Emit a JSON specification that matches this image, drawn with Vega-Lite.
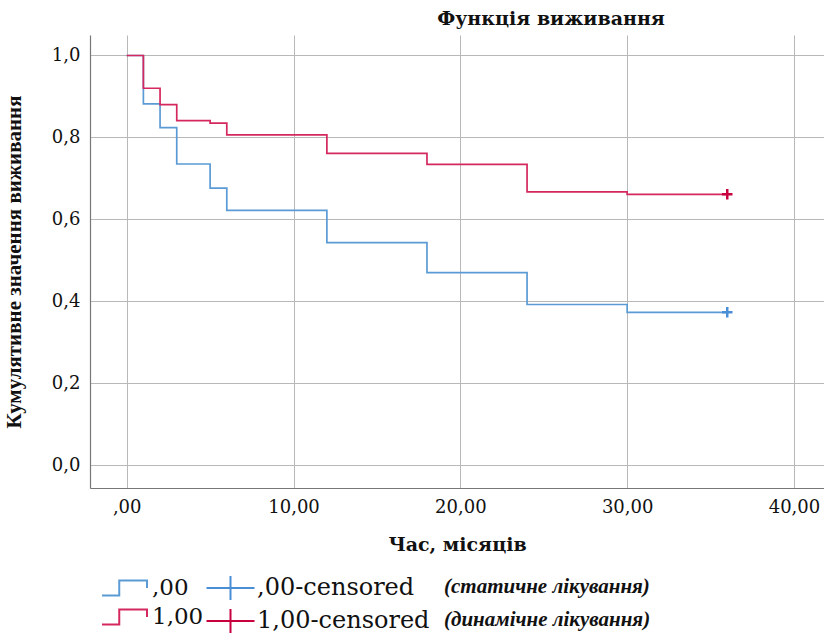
{
  "$schema": "https://vega.github.io/schema/vega-lite/v6.json",
  "width": 734,
  "height": 453,
  "padding": {"left": 3, "top": 10, "right": 0, "bottom": 0},
  "background": "white",
  "title": {
    "text": "Функція виживання",
    "font": "DejaVu Serif",
    "fontWeight": "bold",
    "fontSize": 19,
    "color": "#111111",
    "anchor": "middle",
    "dx": 94,
    "offset": 6
  },
  "datasets": {
    "curves": [
      {"t": 0, "s": 1.0, "grp": ",00"},
      {"t": 1, "s": 0.882, "grp": ",00"},
      {"t": 2, "s": 0.824, "grp": ",00"},
      {"t": 3, "s": 0.735, "grp": ",00"},
      {"t": 5, "s": 0.676, "grp": ",00"},
      {"t": 6, "s": 0.622, "grp": ",00"},
      {"t": 12, "s": 0.543, "grp": ",00"},
      {"t": 18, "s": 0.470, "grp": ",00"},
      {"t": 24, "s": 0.392, "grp": ",00"},
      {"t": 30, "s": 0.373, "grp": ",00"},
      {"t": 36, "s": 0.373, "grp": ",00"},
      {"t": 0, "s": 1.0, "grp": "1,00"},
      {"t": 1, "s": 0.920, "grp": "1,00"},
      {"t": 2, "s": 0.880, "grp": "1,00"},
      {"t": 3, "s": 0.841, "grp": "1,00"},
      {"t": 5, "s": 0.835, "grp": "1,00"},
      {"t": 6, "s": 0.806, "grp": "1,00"},
      {"t": 12, "s": 0.761, "grp": "1,00"},
      {"t": 18, "s": 0.734, "grp": "1,00"},
      {"t": 24, "s": 0.667, "grp": "1,00"},
      {"t": 30, "s": 0.661, "grp": "1,00"},
      {"t": 36, "s": 0.661, "grp": "1,00"}
    ],
    "censored": [
      {"t": 36, "s": 0.373, "grp": ",00-censored", "desc": "(статичне лікування)"},
      {"t": 36, "s": 0.661, "grp": "1,00-censored", "desc": "(динамічне лікування)"}
    ]
  },
  "encoding": {
    "x": {
      "field": "t",
      "type": "quantitative",
      "scale": {"domain": [-2.2, 41.8], "nice": false, "zero": false},
      "axis": {
        "title": "Час, місяців",
        "values": [0, 10, 20, 30, 40],
        "labelExpr": "datum.value == 0 ? ',00' : replace(format(datum.value, '.2f'), '.', ',')",
        "titlePadding": 19
      }
    },
    "y": {
      "field": "s",
      "type": "quantitative",
      "scale": {"domain": [-0.056, 1.05], "nice": false, "zero": false},
      "axis": {
        "title": "Кумулятивне значення виживання",
        "values": [0, 0.2, 0.4, 0.6, 0.8, 1.0],
        "labelExpr": "replace(format(datum.value, '.1f'), '.', ',')",
        "titlePadding": 27,
        "titleFont": "Liberation Serif",
        "titleFontSize": 21
      }
    }
  },
  "layer": [
    {
      "data": {"name": "curves"},
      "mark": {"type": "line", "interpolate": "step-after", "strokeWidth": 1.7},
      "encoding": {
        "color": {
          "field": "grp",
          "type": "nominal",
          "scale": {"domain": [",00", "1,00"], "range": ["#5b9bd5", "#d4285e"]},
          "legend": {
            "title": null,
            "orient": "none",
            "legendX": 29,
            "legendY": 537,
            "direction": "vertical",
            "padding": 0,
            "rowPadding": 1,
            "labelOffset": 1,
            "symbolType": "M-2.2,0.5H-1.05V-0.5H0.8V0",
            "symbolSize": 900,
            "symbolStrokeWidth": 2,
            "labelFont": "DejaVu Serif",
            "labelFontSize": 23,
            "labelColor": "#111111",
            "labelLimit": 400
          }
        }
      }
    },
    {
      "data": {"name": "censored"},
      "mark": {"type": "point", "shape": "M-1,0H1M0,-1V1", "filled": false, "strokeWidth": 2.5, "opacity": 1},
      "encoding": {
        "color": {
          "field": "grp",
          "type": "nominal",
          "scale": {"domain": [",00-censored", "1,00-censored"], "range": ["#4a8ed6", "#c8003e"]},
          "legend": {
            "title": null,
            "orient": "none",
            "legendX": 135,
            "legendY": 537,
            "direction": "vertical",
            "padding": 0,
            "rowPadding": 1,
            "labelOffset": 0,
            "symbolType": "M-2.3,0H0.9M-0.7,-0.8V0.8",
            "symbolSize": 900,
            "symbolStrokeWidth": 2,
            "labelFont": "DejaVu Serif",
            "labelFontSize": 24,
            "labelColor": "#111111",
            "labelLimit": 400
          }
        },
        "size": {
          "field": "desc",
          "type": "ordinal",
          "scale": {"domain": ["(статичне лікування)", "(динамічне лікування)"], "range": [110, 110]},
          "legend": {
            "title": null,
            "orient": "none",
            "legendX": 333,
            "legendY": 541,
            "direction": "vertical",
            "padding": 0,
            "rowPadding": 11,
            "labelOffset": 0,
            "symbolOpacity": 0,
            "symbolStrokeWidth": 0,
            "labelFont": "Liberation Serif",
            "labelFontSize": 21,
            "labelFontStyle": "italic",
            "labelFontWeight": "bold",
            "labelColor": "#111111",
            "labelLimit": 400
          }
        }
      }
    }
  ],
  "resolve": {"scale": {"color": "independent", "size": "independent"}},
  "config": {
    "view": {"stroke": null},
    "axis": {
      "labelFont": "DejaVu Serif",
      "labelFontSize": 18,
      "labelColor": "#111111",
      "titleFont": "DejaVu Serif",
      "titleFontWeight": "bold",
      "titleFontSize": 19,
      "titleColor": "#111111",
      "ticks": false,
      "grid": true,
      "gridColor": "#b8b8b8",
      "gridOpacity": 1,
      "gridWidth": 1,
      "domainColor": "#777777",
      "domainWidth": 1.2,
      "labelPadding": 10
    }
  }
}
